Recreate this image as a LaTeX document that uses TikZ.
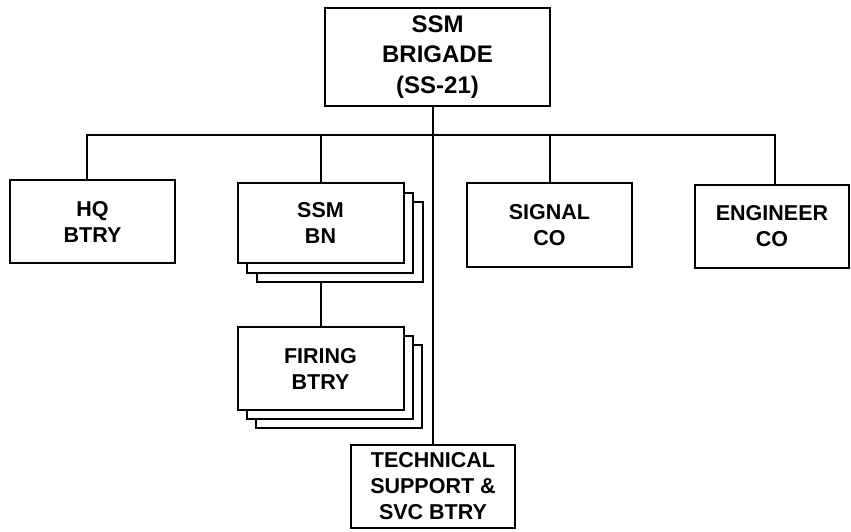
\documentclass[tikz,border=0pt]{standalone}
\usepackage{fontspec}
\setmainfont{Liberation Sans}
\usetikzlibrary{shadows,backgrounds}

\begin{document}
\begin{tikzpicture}[
    x=1pt, y=-1pt,
    line width=2pt,
    unit/.style={draw, fill=white, align=center, inner sep=0pt,
        font=\bfseries\fontsize{21.5}{26}\selectfont},
    stacked/.style={unit,
        copy shadow={shadow xshift=#1*2, shadow yshift=-#1*2, draw=black, fill=white},
        copy shadow={shadow xshift=#1, shadow yshift=-#1, draw=black, fill=white}},
    link/.style={draw, line width=2pt}
]

    \useasboundingbox (0,0) rectangle (851,531);

    % Top box
    \node[unit, minimum width=225pt, minimum height=98pt,
          font=\bfseries\fontsize{24}{30.5}\selectfont]
        (brig) at (437.5,57) {SSM\\BRIGADE\\(SS-21)};

    % Subordinate units
    \node[unit, minimum width=165pt, minimum height=83pt]
        (hq) at (92.5,221.5) {HQ\\BTRY};
    \node[stacked=9.5pt, minimum width=166pt, minimum height=80pt]
        (bn) at (320.5,223) {SSM\\BN};
    \node[unit, minimum width=165pt, minimum height=84pt]
        (sig) at (549.5,225) {SIGNAL\\CO};
    \node[unit, minimum width=154pt, minimum height=83pt]
        (eng) at (772,226.5) {ENGINEER\\CO};
    \node[stacked=9pt, minimum width=166pt, minimum height=83pt]
        (fire) at (320.5,368.5) {FIRING\\BTRY};
    \node[unit, minimum width=164pt, minimum height=83pt]
        (tss) at (433,486.5) {TECHNICAL\\SUPPORT \&\\SVC BTRY};

    % Connectors
    \coordinate (bus) at (0,135);
    \begin{scope}[on background layer]
        \draw[link] ([xshift=-6pt]hq.north) -- ([xshift=-6pt]hq.north |- bus)
            -- ([xshift=3pt]eng.north |- bus) -- ([xshift=3pt]eng.north);
        \draw[link] (bn.north) -- (bn.north |- bus);
        \draw[link] (sig.north) -- (sig.north |- bus);
        \draw[link] (brig.south -| tss.north) -- (tss.north);
        \draw[link] (bn.south) -- (fire.north);
    \end{scope}

\end{tikzpicture}
\end{document}
